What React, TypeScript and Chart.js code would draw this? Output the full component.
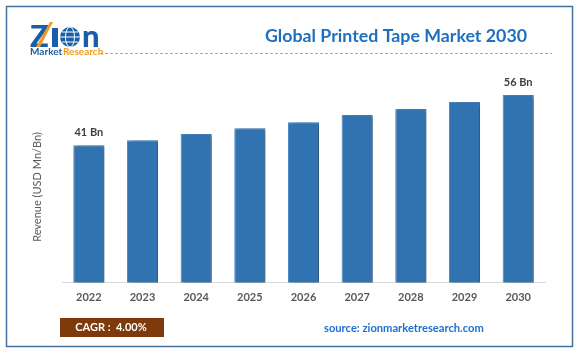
import React, { useEffect, useRef } from "react";
import { Chart, registerables } from "chart.js";

Chart.register(...registerables);

const years = ["2022", "2023", "2024", "2025", "2026", "2027", "2028", "2029", "2030"];
const revenue = [41, 42.5, 44.4, 46.1, 47.9, 50.0, 51.8, 53.9, 56];
const barLabels = ["41 Bn", "", "", "", "", "", "", "", "56 Bn"];
const titleText = "Global Printed Tape Market 2030";
const yTitle = "Revenue (USD Mn/Bn)";
const cagrText = "CAGR :  4.00%";
const sourceText = "source: zionmarketresearch.com";

const W = 579;
const H = 353;
const FONT = "Lato, 'Open Sans', sans-serif";

function sizeToWidth(ctx: CanvasRenderingContext2D, text: string, weight: string, width: number) {
  ctx.font = `${weight} 20px ${FONT}`;
  const w = ctx.measureText(text).width;
  const size = (20 * width) / w;
  ctx.font = `${weight} ${size.toFixed(2)}px ${FONT}`;
}

const shadowPlugin = {
  id: "barShadow",
  beforeDatasetsDraw(chart: any) {
    const ctx = chart.ctx;
    ctx.save();
    ctx.shadowColor = "rgba(0,0,0,0.45)";
    ctx.shadowOffsetX = 3;
    ctx.shadowOffsetY = 1;
    ctx.shadowBlur = 4;
  },
  afterDatasetsDraw(chart: any) {
    const ctx = chart.ctx;
    ctx.restore();
    const meta = chart.getDatasetMeta(0);
    ctx.save();
    ctx.fillStyle = "#404040";
    ctx.font = `bold 11px ${FONT}`;
    ctx.textAlign = "center";
    ctx.textBaseline = "middle";
    meta.data.forEach((bar: any, i: number) => {
      if (barLabels[i]) ctx.fillText(barLabels[i], bar.x, bar.y - 13);
    });
    ctx.restore();
  },
};

const decorPlugin = {
  id: "decor",
  afterDraw(chart: any) {
    const ctx: CanvasRenderingContext2D = chart.ctx;
    ctx.save();
    // frame
    ctx.strokeStyle = "#41719C";
    ctx.lineWidth = 1.5;
    ctx.strokeRect(6.5, 6.5, 566, 340);

    // dashed line under header
    ctx.strokeStyle = "#8FAADC";
    ctx.lineWidth = 1;
    ctx.setLineDash([3, 2]);
    ctx.beginPath();
    ctx.moveTo(100, 53.5);
    ctx.lineTo(552, 53.5);
    ctx.stroke();
    ctx.setLineDash([]);

    // title
    ctx.fillStyle = "#1F6FBF";
    sizeToWidth(ctx, titleText, "bold", 262);
    ctx.textAlign = "left";
    ctx.textBaseline = "middle";
    ctx.fillText(titleText, 265, 36);

    // logo
    ctx.fillStyle = "#1A5EA8";
    ctx.font = `900 31px ${FONT}`;
    ctx.textBaseline = "alphabetic";
    ctx.fillText("Z", 30, 47);
    ctx.fillStyle = "#F39A1E";
    ctx.beginPath();
    ctx.moveTo(36, 47);
    ctx.lineTo(50, 22);
    ctx.lineTo(53, 22);
    ctx.lineTo(40, 47);
    ctx.closePath();
    ctx.fill();
    ctx.fillStyle = "#1A5EA8";
    ctx.fillRect(52, 28, 6, 19);
    ctx.beginPath();
    ctx.arc(70, 37, 10, 0, Math.PI * 2);
    ctx.fill();
    ctx.strokeStyle = "#ffffff";
    ctx.lineWidth = 1;
    ctx.beginPath();
    ctx.ellipse(70, 37, 4.5, 10, 0, 0, Math.PI * 2);
    ctx.moveTo(60, 37);
    ctx.lineTo(80, 37);
    ctx.moveTo(62, 32);
    ctx.lineTo(78, 32);
    ctx.moveTo(62, 42);
    ctx.lineTo(78, 42);
    ctx.stroke();
    ctx.fillStyle = "#1A5EA8";
    ctx.font = `900 31px ${FONT}`;
    ctx.fillText("n", 82, 47);
    ctx.font = `bold 10px ${FONT}`;
    ctx.fillText("Market", 30, 55);
    ctx.fillStyle = "#F39A1E";
    ctx.fillText("Research", 63, 55);

    // y axis title
    ctx.save();
    ctx.translate(37, 187);
    ctx.rotate(-Math.PI / 2);
    ctx.fillStyle = "#595959";
    ctx.font = `11px ${FONT}`;
    ctx.textAlign = "center";
    ctx.textBaseline = "middle";
    ctx.fillText(yTitle, 0, 0);
    ctx.restore();

    // CAGR box
    ctx.fillStyle = "#7E3A0A";
    ctx.fillRect(60, 318, 104, 19);
    ctx.fillStyle = "#ffffff";
    ctx.font = `bold 11px ${FONT}`;
    ctx.textAlign = "center";
    ctx.textBaseline = "middle";
    ctx.fillText(cagrText, 111, 327.5);

    // source
    ctx.fillStyle = "#1F6FD0";
    sizeToWidth(ctx, sourceText, "bold", 160);
    ctx.textAlign = "left";
    ctx.fillText(sourceText, 324, 328);
    ctx.restore();
  },
};

export default function App() {
  const ref = useRef<HTMLCanvasElement | null>(null);

  useEffect(() => {
    document.body.style.margin = "0";
    const canvas = ref.current;
    if (!canvas) return;
    const chart = new Chart(canvas, {
      type: "bar",
      data: {
        labels: years,
        datasets: [
          {
            data: revenue,
            backgroundColor: "#3172B0",
            borderColor: "#4A8AC6",
            borderWidth: 1,
            categoryPercentage: 1,
            barPercentage: 0.58,
          },
        ],
      },
      options: {
        responsive: false,
        animation: false,
        devicePixelRatio: 1,
        layout: { padding: { left: 62, right: 34, top: 81.6, bottom: 0 } },
        plugins: {
          legend: { display: false },
          tooltip: { enabled: false },
          title: { display: false },
        },
        scales: {
          x: {
            grid: { display: false, drawTicks: false },
            border: { display: true, color: "#D9D9D9", width: 1 },
            ticks: {
              color: "#595959",
              padding: 8,
              font: { family: FONT, size: 11, weight: "bold" },
              maxRotation: 0,
            },
            afterFit(scale: any) {
              scale.height = 70.3;
            },
          },
          y: {
            display: false,
            min: 0,
            max: 60,
          },
        },
      },
      plugins: [shadowPlugin, decorPlugin],
    });
    return () => chart.destroy();
  }, []);

  return (
    <div style={{ position: "absolute", left: 0, top: 0, width: W, height: H, background: "#fff" }}>
      <canvas ref={ref} width={W} height={H} style={{ width: W, height: H, display: "block" }} />
    </div>
  );
}
